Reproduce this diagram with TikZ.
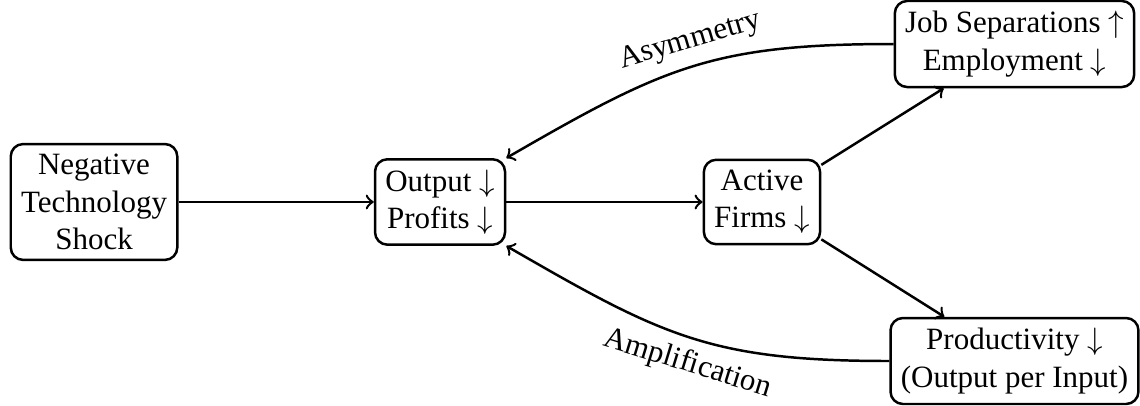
\documentclass[tikz,border=0pt]{standalone}
\usepackage{fontspec}
\setmainfont{Liberation Serif}
\begin{document}
\begin{tikzpicture}[
    box/.style={draw, thick, rounded corners, align=center},
    link/.style={->, thick}
]
    \useasboundingbox (0,0) rectangle (12.925,4.603);
    \node[box] (shock) at (1.066,2.313) {Negative\\Technology\\Shock};
    \node[box] (profit) at (4.989,2.313) {Output $\downarrow$\\Profits $\downarrow$};
    \node[box] (firms) at (8.639,2.313) {Active\\Firms $\downarrow$};
    \node[box] (jobs) at (11.502,4.104) {Job Separations $\uparrow$\\Employment $\downarrow$};
    \node[box] (prod) at (11.502,0.510) {Productivity $\downarrow$\\(Output per Input)};
    \draw[link] (shock) -- (profit);
    \draw[link] (profit) -- (firms);
    \draw[link] (firms) -- (jobs);
    \draw[link] (firms) -- (prod);
    \draw[link] (jobs.west) to[out=180, in=30, looseness=1.15] node[above, sloped, pos=0.48] (asym) {Asymmetry} (profit.north east);
    \draw[link] (prod.west) to[out=180, in=-30, looseness=1.15] node[below, sloped, pos=0.48] (ampl) {Amplification} (profit.south east);
\end{tikzpicture}
\end{document}
